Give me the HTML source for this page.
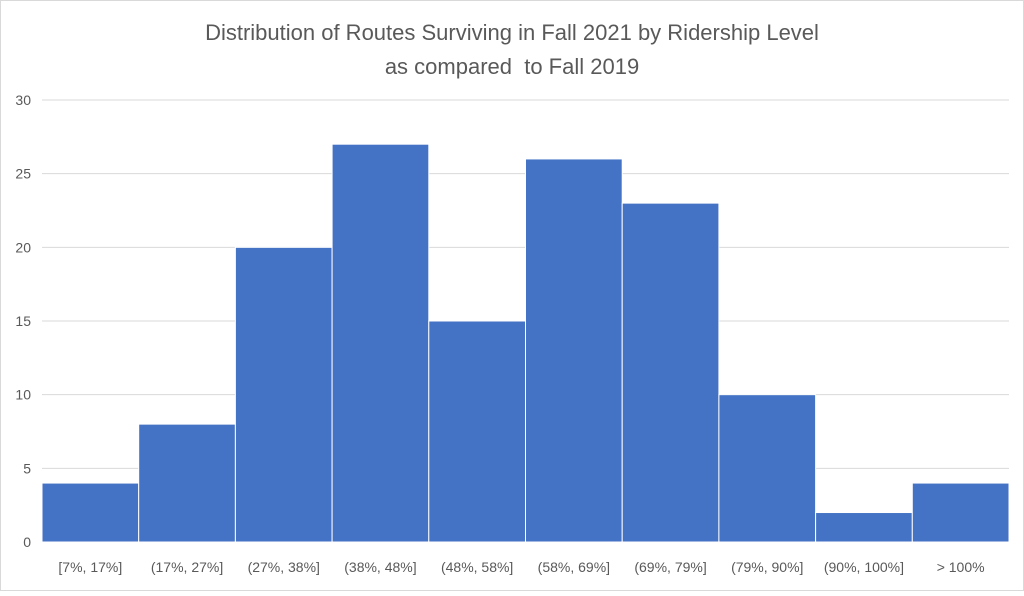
<!DOCTYPE html>
<html><head><meta charset="utf-8"><style>
body{margin:0;background:#fff;font-family:"Liberation Sans",sans-serif}
</style></head><body>
<svg id="c" width="1024" height="591" xmlns="http://www.w3.org/2000/svg">
<rect x="0.5" y="0.5" width="1023" height="590" fill="#fff" stroke="#d9d9d9"/>
<text x="512" y="40" text-anchor="middle" font-size="22" fill="#595959">Distribution of Routes Surviving in Fall 2021 by Ridership Level</text>
<text x="512" y="74" text-anchor="middle" font-size="22" fill="#595959" xml:space="preserve">as compared  to Fall 2019</text>
<g id="grid"></g><g id="bars"></g><g id="xl"></g><g id="yl"></g>
</svg>
<script>
const categories=["[7%, 17%]","(17%, 27%]","(27%, 38%]","(38%, 48%]","(48%, 58%]","(58%, 69%]","(69%, 79%]","(79%, 90%]","(90%, 100%]","> 100%"];
const values=[4,8,20,27,15,26,23,10,2,4];
const yTicks=[0,5,10,15,20,25,30];
const NS="http://www.w3.org/2000/svg";
const x0=42,x1=1009,yBase=542,yTop=100,yMax=30;
const y=v=>yBase-(v/yMax)*(yBase-yTop);
const bw=(x1-x0)/categories.length;
const x=i=>x0+i*bw;
function mk(t,a,p){const e=document.createElementNS(NS,t);for(const k in a)e.setAttribute(k,a[k]);p.appendChild(e);return e;}
const g=document.getElementById('grid'),b=document.getElementById('bars'),xl=document.getElementById('xl'),yl=document.getElementById('yl');
yTicks.forEach(t=>{
 const l=mk('line',{x1:x0,x2:x1,y1:y(t),y2:y(t),stroke:'#d9d9d9','stroke-width':1},g);
 
 
 const tx=mk('text',{x:31,y:y(t)+5,'text-anchor':'end','font-size':14,fill:'#595959'},yl);
 tx.textContent=t;
 
 
});
values.forEach((v,i)=>{
 const r=mk('rect',{x:x(i),y:y(v),width:bw,height:yBase-y(v),fill:'#4472c4',stroke:'#fff','stroke-width':1},b);
 
 
 const tx=mk('text',{x:x(i)+bw/2,y:572,'text-anchor':'middle','font-size':14,fill:'#595959'},xl);
 tx.textContent=categories[i];
 
 
});
</script>
</body></html>
